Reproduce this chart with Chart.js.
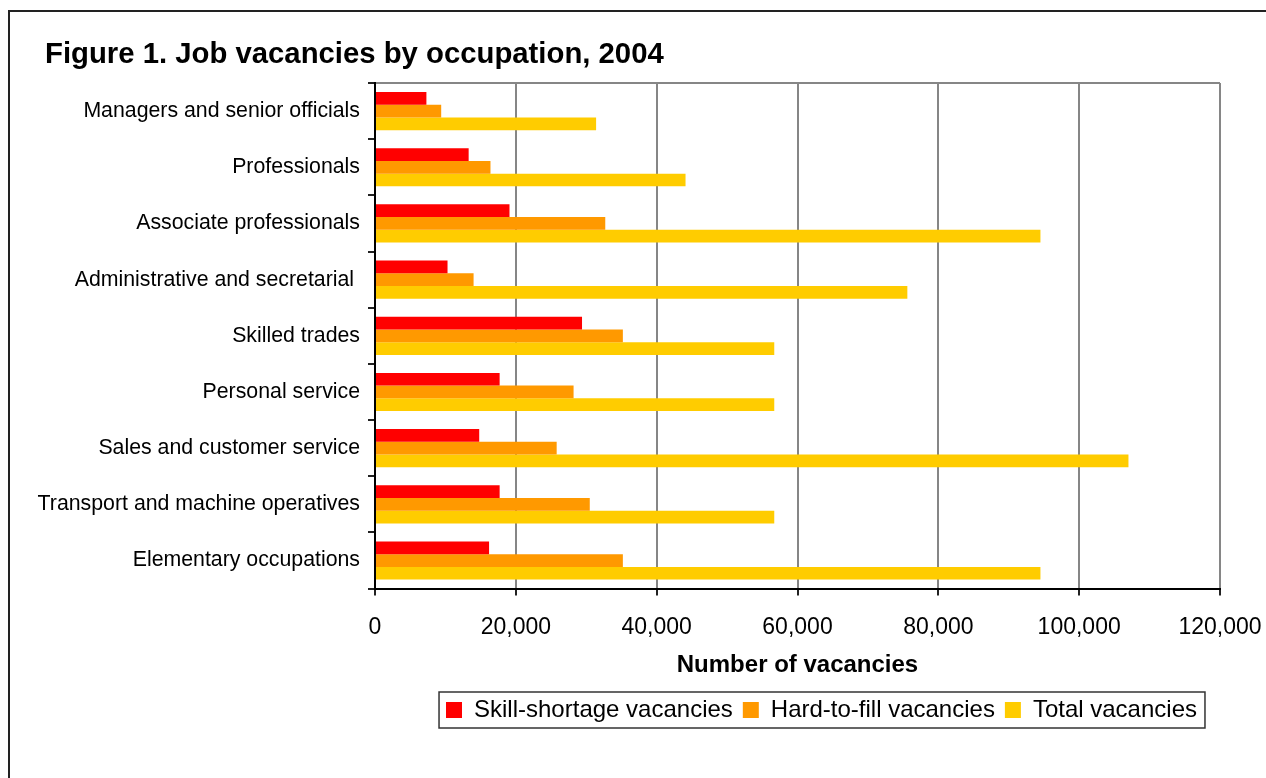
<!DOCTYPE html>
<html>
<head>
<meta charset="utf-8">
<script src="https://cdn.jsdelivr.net/npm/chart.js@4"></script>
<style>
  html, body { margin: 0; padding: 0; background: #fff; overflow: hidden; }
  #frame {
    position: absolute; left: 8px; top: 10px; width: 2000px; height: 2000px;
    border-left: 2px solid #222; border-top: 2px solid #222;
  }
  #wrap { position: absolute; left: 0; top: 0; width: 1266px; height: 778px; }
</style>
</head>
<body>
<div id="frame"></div>
<div id="wrap"><canvas id="chart"></canvas></div>
<script>
// Data
const occupations = [
  "Managers and senior officials",
  "Professionals",
  "Associate professionals",
  "Administrative and secretarial ",
  "Skilled trades",
  "Personal service",
  "Sales and customer service",
  "Transport and machine operatives",
  "Elementary occupations",
];
const skillShortage = [7300, 13300, 19100, 10300, 29400, 17700, 14800, 17700, 16200];
const hardToFill = [9400, 16400, 32700, 14000, 35200, 28200, 25800, 30500, 35200];
const totalVacancies = [31400, 44100, 94500, 75600, 56700, 56700, 107000, 56700, 94500];
const xTicks = [0, 20000, 40000, 60000, 80000, 100000, 120000];

const chartTitle = "Figure 1. Job vacancies by occupation, 2004";
const FONT = "'Liberation Sans', Arial, sans-serif";

// title sits left of the label column, so draw it by hand
const titlePlugin = {
  id: "leftTitle",
  afterDraw(chart) {
    const ctx = chart.ctx;
    ctx.save();
    ctx.fillStyle = "#000";
    ctx.font = "bold 29.3px " + FONT;
    ctx.textBaseline = "middle";
    ctx.textAlign = "left";
    ctx.fillText(chartTitle, 45, 55);
    ctx.restore();
  },
};

// legend sits a bit right of the plot centre, with a box round it
const legendBox = {
  id: "legendBox",
  afterLayout(chart) {
    const lg = chart.legend;
    const area = chart.chartArea;
    lg.left = area.left + 24;
    lg.right = area.right + 24;
    lg.width = lg.right - lg.left;
  },
  afterDraw(chart) {
    const boxes = chart.legend.legendHitBoxes;
    if (!boxes || !boxes.length) return;
    const first = boxes[0];
    const last = boxes[boxes.length - 1];
    const ctx = chart.ctx;
    ctx.save();
    ctx.strokeStyle = "#333";
    ctx.lineWidth = 1.5;
    ctx.strokeRect(first.left - 7, first.top - 6, last.left + last.width - first.left + 15, first.height + 12);
    ctx.restore();
  },
};

new Chart(document.getElementById("chart"), {
  type: "bar",
  data: {
    labels: occupations,
    datasets: [
      { label: "Skill-shortage vacancies", data: skillShortage, backgroundColor: "#FF0000" },
      { label: "Hard-to-fill vacancies", data: hardToFill, backgroundColor: "#FF9900" },
      { label: "Total vacancies", data: totalVacancies, backgroundColor: "#FFCC00" },
    ],
  },
  options: {
    indexAxis: "y",
    responsive: true,
    maintainAspectRatio: false,
    animation: false,
    datasets: {
      bar: { categoryPercentage: 0.68, barPercentage: 1.0 },
    },
    layout: { padding: { left: 30, right: 0, top: 83, bottom: 46 } },
    plugins: {
      title: { display: false },
      legend: {
        position: "bottom",
        labels: {
          color: "#000",
          font: { family: FONT, size: 24 },
          boxWidth: 16,
          boxHeight: 16,
          padding: 10,
        },
      },
      tooltip: { enabled: false },
    },
    scales: {
      x: {
        min: 0,
        max: 120000,
        afterBuildTicks: (scale) => {
          scale.ticks = xTicks.map((v) => ({ value: v }));
        },
        afterFit: (scale) => {
          scale.paddingRight = 46;
          scale.paddingLeft = 0;
        },
        ticks: {
          color: "#000",
          font: { family: FONT, size: 23 },
          padding: 18,
          maxRotation: 0,
          callback: (v) => v.toLocaleString("en-US"),
        },
        grid: {
          color: "#868686",
          lineWidth: 2,
          tickColor: "#222",
          tickLength: 7,
        },
        border: { color: "#000", width: 2 },
        title: {
          display: true,
          text: "Number of vacancies",
          color: "#000",
          font: { family: FONT, size: 24, weight: "bold" },
          padding: { top: -8, bottom: 8 },
        },
      },
      y: {
        afterFit: (scale) => {
          scale.width = 345;
        },
        ticks: {
          color: "#000",
          font: { family: FONT, size: 21.3 },
          padding: 8,
        },
        grid: {
          color: (ctx) => (ctx.index === 0 ? "#868686" : "rgba(0,0,0,0)"),
          lineWidth: 2,
          tickColor: "#222",
          tickLength: 7,
        },
        border: { color: "#000", width: 2 },
      },
    },
  },
  plugins: [titlePlugin, legendBox],
});
</script>
</body>
</html>
